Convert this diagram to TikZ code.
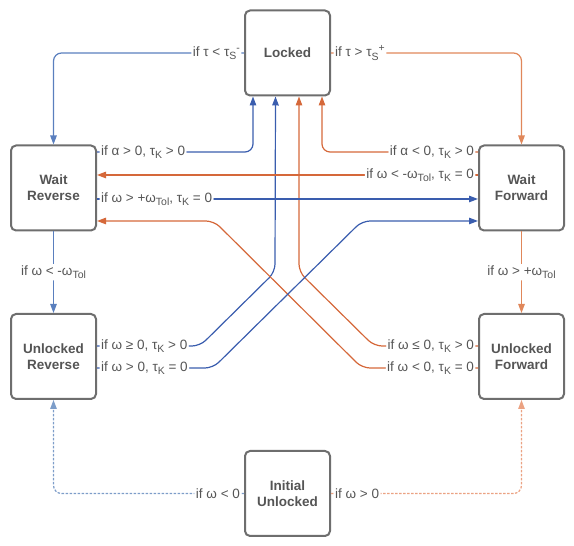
\documentclass[tikz,border=0pt]{standalone}
\usepackage{fontspec}
\setmainfont{Liberation Sans}
\usepackage{tikz}
\usetikzlibrary{positioning,calc,arrows.meta}
\usepackage{xcolor}
\definecolor{boxgray}{HTML}{6E6E6E}
\definecolor{txtgray}{HTML}{555555}
\definecolor{bdark}{HTML}{3A5DAE}
\definecolor{blight}{HTML}{5A7FBE}
\definecolor{odark}{HTML}{D5683A}
\definecolor{olight}{HTML}{E0875A}
\definecolor{bdot}{HTML}{7D9DC9}
\definecolor{odot}{HTML}{EBA282}
\newcommand{\lsub}[1]{\raisebox{-3.5pt}{\fontsize{10.5}{11}\selectfont #1}}
\newcommand{\lsup}[1]{\raisebox{5pt}{\fontsize{10.5}{11}\selectfont #1}}

\begin{document}
\begin{tikzpicture}[x=1pt,y=1pt,
    state/.style={rectangle,rounded corners=5pt,draw=boxgray,line width=2pt,fill=white,minimum width=85pt,minimum height=85pt,align=center,text=txtgray,font=\fontsize{13.5}{16}\selectfont\bfseries},
    cond/.style={fill=white,inner sep=1.5pt,text=txtgray,font=\fontsize{13.5}{15}\selectfont},
    link/.style={line width=1.2pt,rounded corners=8pt,-{Triangle[length=9pt,width=6.5pt]}},
    dots/.style={link,dash pattern=on 2.5pt off 1.5pt}]

\useasboundingbox (0,0) rectangle (574,546);

\node[state] (lk) at (287.5,493) {Locked};
\node[state] (wr) at (53.5,358) {Wait\\Reverse};
\node[state] (wf) at (521.5,358) {Wait\\Forward};
\node[state] (ur) at (53.5,189.5) {Unlocked\\Reverse};
\node[state] (uf) at (521.5,189.5) {Unlocked\\Forward};
\node[state] (iu) at (287.5,52.5) {Initial\\Unlocked};

% from Locked
\draw[link,blight] (lk.west) node[cond,anchor=east,xshift=-2pt] (cts) {if τ < τ\lsub{S}\lsup{-}} -| (wr.north);
\draw[link,olight] (lk.east) node[cond,anchor=west,xshift=2pt] (ctp) {if τ > τ\lsub{S}\lsup{+}} -| (wf.north);

% back to Locked
\draw[link,bdark] ([yshift=36pt]wr.east) node[cond,anchor=west,xshift=2pt] (cap) {if α > 0, τ\lsub{K} > 0} -| ([xshift=-34.5pt]lk.south);
\draw[link,odark] ([yshift=36pt]wf.west) node[cond,anchor=east,xshift=-2pt] (can) {if α < 0, τ\lsub{K} > 0} -| ([xshift=34.5pt]lk.south);
\draw[link,bdark] ([yshift=10.5pt]ur.east) node[cond,anchor=west,xshift=2pt] (cwr) {if ω ≥ 0, τ\lsub{K} > 0} -- ++(103,0) -- ++(75,74) -- ([xshift=-12pt]lk.south);
\draw[link,odark] ([yshift=10.5pt]uf.west) node[cond,anchor=east,xshift=-2pt] (cwf) {if ω ≤ 0, τ\lsub{K} > 0} -- ++(-104,0) -- ++(-75,74) -- ([xshift=11.5pt]lk.south);

% between wait states
\draw[link,odark] ([yshift=13pt]wf.west) node[cond,anchor=east,xshift=-2pt] (cwn) {if ω < -ω\lsub{Tol}, τ\lsub{K} = 0} -- ([yshift=13pt]wr.east);
\draw[link,bdark] ([yshift=-11pt]wr.east) node[cond,anchor=west,xshift=2pt] (cwp) {if ω > +ω\lsub{Tol}, τ\lsub{K} = 0} -- ([yshift=-11pt]wf.west);

% crossing from unlocked states
\draw[link,odark] ([yshift=-11.5pt]uf.west) node[cond,anchor=east,xshift=-2pt] (cun) {if ω < 0, τ\lsub{K} = 0} -- ++(-116,0) -- ++(-148,147) -- ([yshift=-33pt]wr.east);
\draw[link,bdark] ([yshift=-11.5pt]ur.east) node[cond,anchor=west,xshift=2pt] (cup) {if ω > 0, τ\lsub{K} = 0} -- ++(116,0) -- ++(149,147) -- ([yshift=-33pt]wf.west);

% wait to unlocked
\draw[link,blight] (wr.south) -- node[cond] (cdr) {if ω < -ω\lsub{Tol}} (ur.north);
\draw[link,olight] (wf.south) -- node[cond] (cdf) {if ω > +ω\lsub{Tol}} (uf.north);

% initial
\draw[dots,bdot] (iu.west) node[cond,anchor=east,xshift=-2pt] (cin) {if ω < 0} -| (ur.south);
\draw[dots,odot] (iu.east) node[cond,anchor=west,xshift=2pt] (cip) {if ω > 0} -| (uf.south);

\end{tikzpicture}
\end{document}
